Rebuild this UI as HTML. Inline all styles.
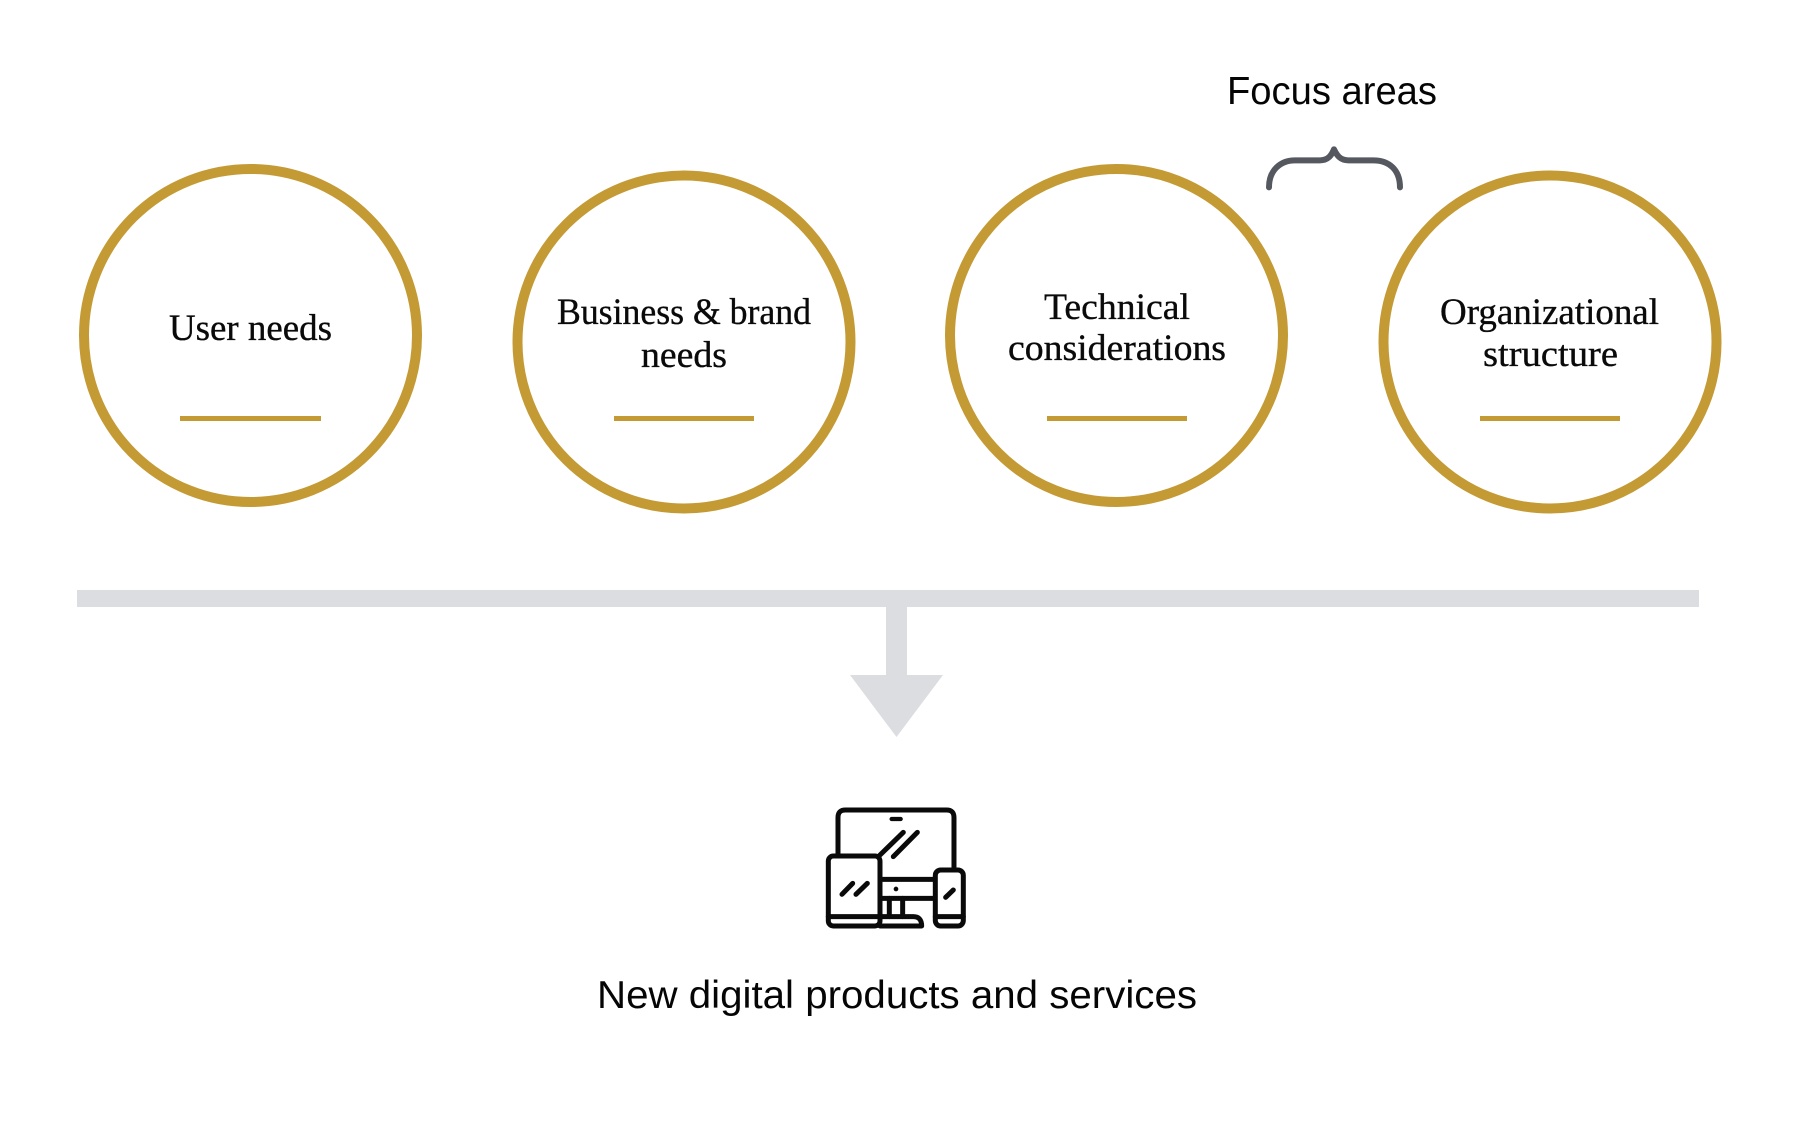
<!DOCTYPE html>
<html lang="en">
<head>
<meta charset="utf-8">
<title>Focus areas diagram</title>
<style>
html,body{margin:0;padding:0;background:#fff;width:1818px;height:1136px;overflow:hidden}
svg{display:block}
.s{font-family:"Liberation Serif",serif;font-size:36.5px;fill:#0a0a0a;stroke:#0a0a0a;stroke-width:.35px}
.g{font-family:"Liberation Sans",sans-serif;font-size:39px;fill:#050505}
</style>
</head>
<body>
<svg xmlns="http://www.w3.org/2000/svg" width="1818" height="1136" viewBox="0 0 1818 1136">
<rect width="1818" height="1136" fill="#fff"/>
<g fill="none" stroke="#c49a35" stroke-width="10">
<circle cx="250.5" cy="335.5" r="166.5"/>
<circle cx="684" cy="342" r="166.5"/>
<circle cx="1116.5" cy="335.5" r="166.5"/>
<circle cx="1550" cy="342" r="166.5"/>
</g>
<g fill="#c49a35">
<rect x="180" y="416" width="141" height="5"/>
<rect x="614" y="416" width="140" height="5"/>
<rect x="1047" y="416" width="140" height="5"/>
<rect x="1480" y="416" width="140" height="5"/>
</g>
<text class="s" x="169" y="340" textLength="163" lengthAdjust="spacingAndGlyphs">User needs</text>
<text class="s" x="557" y="324" textLength="254" lengthAdjust="spacingAndGlyphs">Business &amp; brand</text>
<text class="s" x="641" y="367" textLength="86" lengthAdjust="spacingAndGlyphs">needs</text>
<text class="s" x="1044" y="319" textLength="146" lengthAdjust="spacingAndGlyphs">Technical</text>
<text class="s" x="1008" y="360" textLength="218" lengthAdjust="spacingAndGlyphs">considerations</text>
<text class="s" x="1440" y="324" textLength="219" lengthAdjust="spacingAndGlyphs">Organizational</text>
<text class="s" x="1483" y="366" textLength="135" lengthAdjust="spacingAndGlyphs">structure</text>
<text class="g" x="1227" y="104" textLength="210" lengthAdjust="spacingAndGlyphs">Focus areas</text>
<g transform="translate(1200 50) scale(.3333)">
<path d="M207 412C207 362 240 331 285 331L360 331C385 331 395 315 402 298C410 315 420 331 445 331L520 331C570 331 600 362 600 412" fill="none" stroke="#55585f" stroke-width="18" stroke-linecap="round" stroke-linejoin="round"/>
</g>
<rect x="77" y="590" width="1622" height="17" fill="#dcdde0"/>
<rect x="886" y="607" width="21" height="68" fill="#dcdde0"/>
<polygon points="850,675 943,675 896.5,737" fill="#dcdde0"/>
<g transform="translate(780 780) scale(.3333)" fill="none" stroke="#0a0a0a" stroke-width="15" stroke-linecap="round" stroke-linejoin="round">
<path d="M174 225V112Q174 90 196 90H500Q522 90 522 112V265"/>
<path d="M335 117H362" stroke-width="13"/>
<path d="M300 225L370 157M340 230L412 157"/>
<rect x="145" y="228" width="155" height="210" rx="15"/>
<path d="M145 410H300"/>
<path d="M186 343L218 310M228 343L262 310"/>
<path d="M300 298H465M300 355H465"/>
<path d="M328 355V410M368 355V410"/>
<path d="M300 410H400Q425 410 425 438H300"/>
<rect x="466" y="270" width="84" height="168" rx="16"/>
<path d="M466 410H550"/>
<path d="M497 352L520 330"/>
<circle cx="348" cy="327" r="7" fill="#0a0a0a" stroke="none"/>
</g>
<text class="g" x="597" y="1008" textLength="600" lengthAdjust="spacingAndGlyphs">New digital products and services</text>
</svg>
</body>
</html>
